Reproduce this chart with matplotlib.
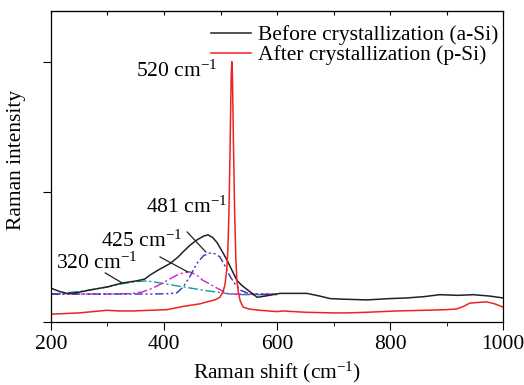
import matplotlib
matplotlib.use("Agg")
import matplotlib.pyplot as plt
from matplotlib.ticker import MultipleLocator

plt.rcParams['font.family'] = ['Liberation Serif', 'DejaVu Serif']
plt.rcParams['mathtext.fontset'] = 'custom'
plt.rcParams['mathtext.rm'] = 'Liberation Serif'
plt.rcParams['mathtext.it'] = 'Liberation Serif:italic'

# espectro antes de cristalizar (a-Si)
before_x = [200, 215, 228, 245, 269, 300, 326, 350, 366, 375, 390, 411, 425, 434, 446,
            458, 470, 478, 486, 494, 502, 511, 520, 529, 538, 547, 556, 565, 580, 605,
            630, 653, 675, 694, 720, 759, 800, 830, 860, 888, 920, 947, 975, 1000]
before_y = [0.26, 0.235, 0.22, 0.225, 0.246, 0.27, 0.30, 0.315, 0.33, 0.36, 0.40, 0.45,
            0.50, 0.54, 0.59, 0.63, 0.66, 0.67, 0.65, 0.61, 0.55, 0.48, 0.40, 0.32, 0.28,
            0.25, 0.22, 0.19, 0.20, 0.22, 0.22, 0.22, 0.20, 0.18, 0.175, 0.17, 0.18, 0.185,
            0.195, 0.21, 0.205, 0.21, 0.20, 0.185]

# espectro después de cristalizar (p-Si)
after_x = [200, 250, 299, 320, 345, 375, 405, 434, 464, 476, 490, 499, 505, 508, 511,
           513, 515, 517, 518, 519, 520, 521, 522, 523, 525, 527, 529, 532, 535, 540,
           550, 570, 600, 610, 650, 700, 724, 760, 812, 860, 900, 918, 930, 941, 955,
           971, 985, 1000]
after_y = [0.06, 0.07, 0.09, 0.085, 0.085, 0.09, 0.095, 0.12, 0.14, 0.155, 0.17, 0.19,
           0.24, 0.29, 0.40, 0.55, 0.85, 1.35, 1.65, 1.90, 2.0, 1.90, 1.65, 1.35, 0.85,
           0.50, 0.32, 0.22, 0.16, 0.115, 0.10, 0.09, 0.08, 0.085, 0.075, 0.07, 0.07,
           0.075, 0.085, 0.09, 0.095, 0.10, 0.12, 0.145, 0.15, 0.155, 0.14, 0.115]

# componentes del ajuste
teal_x = [200, 212, 235, 260, 280, 301, 320, 336, 350, 366, 380, 400, 420, 434, 455,
          475, 494, 517, 540, 570, 600]
teal_y = [0.215, 0.218, 0.228, 0.24, 0.255, 0.27, 0.29, 0.30, 0.31, 0.315, 0.31, 0.295,
          0.28, 0.27, 0.255, 0.24, 0.23, 0.215, 0.21, 0.21, 0.21]

magenta_x = [200, 300, 340, 361, 380, 398, 410, 423, 435, 446, 458, 469, 482, 494, 505,
             511, 525, 550, 600]
magenta_y = [0.215, 0.215, 0.218, 0.23, 0.26, 0.30, 0.33, 0.36, 0.38, 0.385, 0.36, 0.32,
             0.29, 0.26, 0.235, 0.22, 0.215, 0.215, 0.215]

blue_x = [200, 380, 410, 423, 434, 446, 458, 470, 481, 490, 499, 508, 517, 526, 535,
          552, 580, 600]
blue_y = [0.215, 0.215, 0.218, 0.225, 0.27, 0.35, 0.45, 0.51, 0.53, 0.525, 0.50, 0.43,
          0.35, 0.29, 0.245, 0.215, 0.213, 0.213]

# etiquetas de picos: texto, posición del texto, línea guía
peak_labels = ['320 cm$^{-1}$', '425 cm$^{-1}$', '481 cm$^{-1}$', '520 cm$^{-1}$']
label_pos = [(280, 0.408), (360, 0.577), (440, 0.838), (422, 1.885)]
leader_lines = [((296, 326), (0.377, 0.30)), ((393, 442), (0.50, 0.385)),
                ((441, 474), (0.692, 0.538))]

fig = plt.figure(figsize=(5.24, 3.85), dpi=100)
ax = fig.add_axes([0.0973, 0.1636, 0.8627, 0.8078])

ax.plot(teal_x, teal_y, color='#119999', lw=1.0, linestyle=(0, (7, 2, 1.5, 2)))
ax.plot(magenta_x, magenta_y, color='#cc22cc', lw=1.0, linestyle=(0, (7, 2, 1.5, 2)))
ax.plot(blue_x, blue_y, color='#3333bb', lw=1.0, linestyle=(0, (6, 2, 1.5, 2, 1.5, 2)))
ax.plot(before_x, before_y, color='#222222', lw=1.1, label='Before crystallization (a-Si)')
ax.plot(after_x, after_y, color='#ee2222', lw=1.1, label='After crystallization (p-Si)')

fs = 15.5
for txt, (tx, ty) in zip(peak_labels, label_pos):
    ax.text(tx, ty, txt, fontsize=fs, ha='center', va='baseline')
for lx, ly in leader_lines:
    ax.plot(lx, ly, color='#222222', lw=0.9)

ax.set_xlim(200, 1000)
ax.set_ylim(0, 2.39)
ax.xaxis.set_major_locator(MultipleLocator(200))
ax.xaxis.set_minor_locator(MultipleLocator(100))
ax.set_yticks([0, 1, 2])
ax.set_yticklabels([])
ax.tick_params(axis='x', which='major', direction='out', length=6, labelsize=fs)
ax.tick_params(axis='x', which='minor', direction='out', length=3)
ax.tick_params(axis='y', direction='out', length=6)

# ticks internos arriba
top = ax.secondary_xaxis('top')
top.xaxis.set_major_locator(MultipleLocator(100))
top.tick_params(direction='in', length=3)
top.set_xticklabels([])

for s in ax.spines.values():
    s.set_linewidth(0.9)

ax.set_xlabel('Raman shift (cm$^{-1}$)', fontsize=fs)
ax.set_ylabel('Raman intensity', fontsize=fs)
ax.xaxis.set_label_coords(0.5, -0.121)
ax.yaxis.set_label_coords(-0.055, 0.52)

ax.legend(loc='upper right', frameon=False, fontsize=fs, handlelength=1.86,
          handletextpad=0.33, labelspacing=0.0, borderaxespad=0.0, borderpad=0.2,
          bbox_to_anchor=(0.999, 0.968))

fig.savefig('out.png', dpi=100)
